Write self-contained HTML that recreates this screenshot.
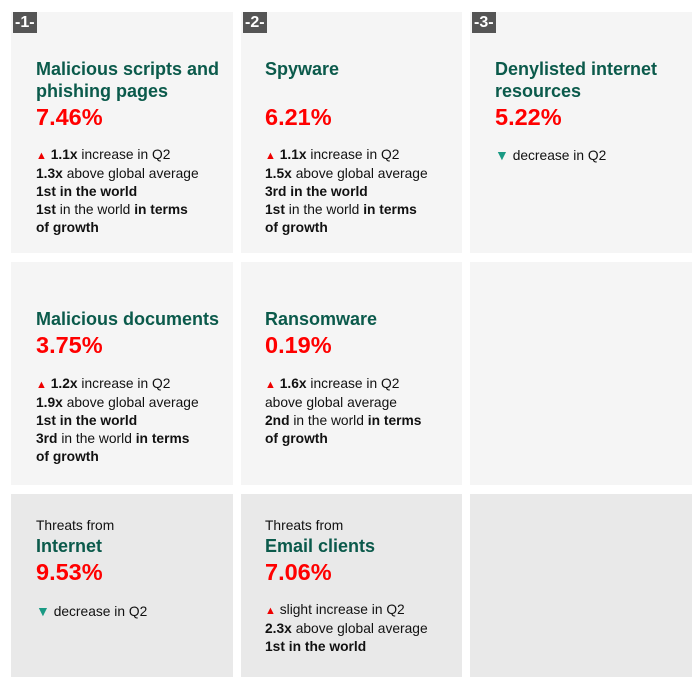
<!DOCTYPE html>
<html><head><meta charset="utf-8"><style>
body{margin:0;width:700px;height:687px;background:#fff;font-family:"Liberation Sans",sans-serif;position:relative;overflow:hidden}
.c{position:absolute;background:#f5f5f5}
.d{background:#e9e9e9}
.b{position:absolute;background:#555;color:#fff;font-weight:bold;font-size:16px;line-height:21px;padding:0 2px;height:21px}
.t{position:absolute;color:#0b5a4b;font-weight:bold;font-size:18px;line-height:22px;white-space:nowrap}
.p{position:absolute;color:#f00;font-weight:bold;font-size:23.5px;line-height:26px}
.l{position:absolute;font-size:13.8px;line-height:18px;color:#111;white-space:nowrap}
.u{color:#e00;font-size:11px}
.dn{color:#1a9a84;font-size:14px}
</style></head><body>
<div class="c" style="left:11px;top:12px;width:222px;height:241px"></div>
<div class="c" style="left:241px;top:12px;width:221px;height:241px"></div>
<div class="c" style="left:470px;top:12px;width:222px;height:241px"></div>
<div class="c" style="left:11px;top:262px;width:222px;height:223px"></div>
<div class="c" style="left:241px;top:262px;width:221px;height:223px"></div>
<div class="c" style="left:470px;top:262px;width:222px;height:223px"></div>
<div class="c d" style="left:11px;top:494px;width:222px;height:183px"></div>
<div class="c d" style="left:241px;top:494px;width:221px;height:183px"></div>
<div class="c d" style="left:470px;top:494px;width:222px;height:183px"></div>

<div class="b" style="left:13px;top:12px">-1-</div>
<div class="b" style="left:243px;top:12px">-2-</div>
<div class="b" style="left:472px;top:12px">-3-</div>

<div class="t" style="left:36px;top:58px">Malicious scripts and<br>phishing pages</div>
<div class="p" style="left:36px;top:104px">7.46%</div>
<div class="l" style="left:36px;top:146px"><span class="u">▲</span> <b>1.1x</b> increase in Q2<br><b>1.3x</b> above global average<br><b>1st in the world</b><br><b>1st</b> in the world <b>in terms</b><br><b>of growth</b></div>

<div class="t" style="left:265px;top:58px">Spyware</div>
<div class="p" style="left:265px;top:104px">6.21%</div>
<div class="l" style="left:265px;top:146px"><span class="u">▲</span> <b>1.1x</b> increase in Q2<br><b>1.5x</b> above global average<br><b>3rd in the world</b><br><b>1st</b> in the world <b>in terms</b><br><b>of growth</b></div>

<div class="t" style="left:495px;top:58px">Denylisted internet<br>resources</div>
<div class="p" style="left:495px;top:104px">5.22%</div>
<div class="l" style="left:495px;top:146px"><span class="dn">▼</span> decrease in Q2</div>

<div class="t" style="left:36px;top:308px">Malicious documents</div>
<div class="p" style="left:36px;top:332px">3.75%</div>
<div class="l" style="left:36px;top:375px"><span class="u">▲</span> <b>1.2x</b> increase in Q2<br><b>1.9x</b> above global average<br><b>1st in the world</b><br><b>3rd</b> in the world <b>in terms</b><br><b>of growth</b></div>

<div class="t" style="left:265px;top:308px">Ransomware</div>
<div class="p" style="left:265px;top:332px">0.19%</div>
<div class="l" style="left:265px;top:375px"><span class="u">▲</span> <b>1.6x</b> increase in Q2<br>above global average<br><b>2nd</b> in the world <b>in terms</b><br><b>of growth</b></div>

<div class="l" style="left:36px;top:517px">Threats from</div>
<div class="t" style="left:36px;top:535px">Internet</div>
<div class="p" style="left:36px;top:559px">9.53%</div>
<div class="l" style="left:36px;top:602px"><span class="dn">▼</span> decrease in Q2</div>

<div class="l" style="left:265px;top:517px">Threats from</div>
<div class="t" style="left:265px;top:535px">Email clients</div>
<div class="p" style="left:265px;top:559px">7.06%</div>
<div class="l" style="left:265px;top:601px"><span class="u">▲</span> slight increase in Q2<br><b>2.3x</b> above global average<br><b>1st in the world</b></div>
</body></html>
